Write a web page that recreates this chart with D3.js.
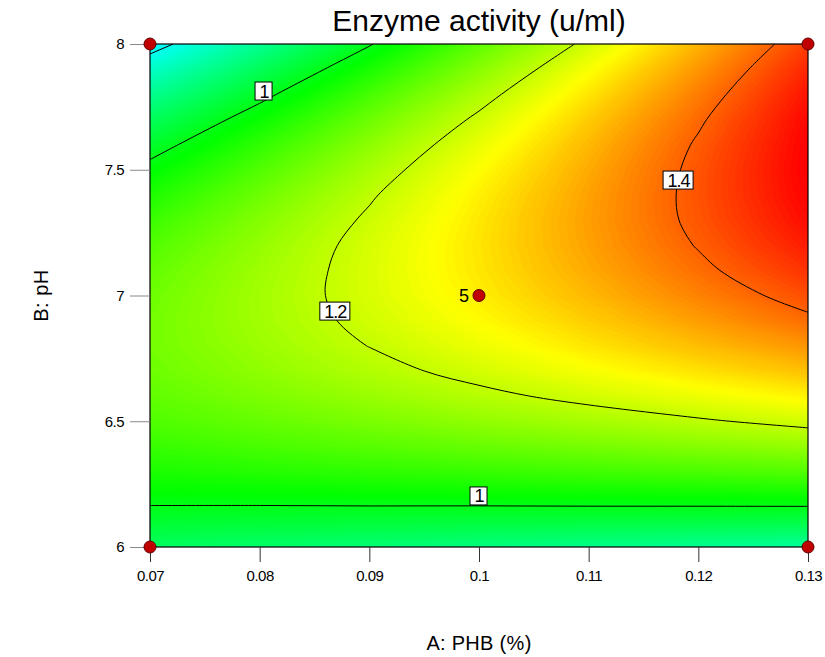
<html lang="en">

<head>
    <meta charset="utf-8">
    <title>Enzyme activity (u/ml)</title>
    <script type="text/javascript" src="https://cdn.jsdelivr.net/npm/d3@7"></script>
    <style>
        body {
            margin: 0;
            background: white;
        }
        text {
            font-family: "Liberation Sans", Arial, sans-serif;
            fill: black;
        }
        .axis path {
            display: none;
        }
    </style>
</head>

<body>
    <script type="text/javascript">
        // A: PHB (%) - one column per level
        var phb = [0.07, 0.08, 0.09, 0.10, 0.11, 0.12, 0.13];

        // B: pH - one row per level
        var ph = [6.0, 6.1, 6.2, 6.3, 6.4, 6.5, 6.6, 6.7, 6.8, 6.9, 7.0,
                  7.1, 7.2, 7.3, 7.4, 7.5, 7.6, 7.7, 7.8, 7.9, 8.0];

        // predicted enzyme activity (u/ml), rows follow ph, columns follow phb
        var activity = [
            [0.933, 0.924, 0.914, 0.905, 0.896, 0.886, 0.877],
            [0.976, 0.972, 0.969, 0.965, 0.962, 0.959, 0.955],
            [1.013, 1.015, 1.018, 1.020, 1.023, 1.025, 1.028],
            [1.045, 1.053, 1.062, 1.070, 1.079, 1.087, 1.096],
            [1.071, 1.086, 1.100, 1.115, 1.129, 1.143, 1.158],
            [1.093, 1.113, 1.133, 1.154, 1.174, 1.194, 1.215],
            [1.109, 1.135, 1.161, 1.188, 1.214, 1.240, 1.266],
            [1.120, 1.152, 1.184, 1.216, 1.248, 1.281, 1.313],
            [1.125, 1.163, 1.201, 1.239, 1.278, 1.316, 1.354],
            [1.125, 1.169, 1.213, 1.257, 1.301, 1.345, 1.390],
            [1.120, 1.170, 1.220, 1.270, 1.320, 1.370, 1.420],
            [1.110, 1.165, 1.221, 1.277, 1.333, 1.389, 1.445],
            [1.094, 1.156, 1.218, 1.279, 1.341, 1.403, 1.465],
            [1.073, 1.141, 1.208, 1.276, 1.344, 1.412, 1.480],
            [1.046, 1.120, 1.194, 1.268, 1.341, 1.415, 1.489],
            [1.015, 1.094, 1.174, 1.254, 1.333, 1.413, 1.493],
            [0.978, 1.063, 1.149, 1.235, 1.320, 1.406, 1.491],
            [0.936, 1.027, 1.119, 1.210, 1.302, 1.393, 1.485],
            [0.888, 0.985, 1.083, 1.180, 1.278, 1.375, 1.473],
            [0.835, 0.939, 1.042, 1.145, 1.249, 1.352, 1.456],
            [0.777, 0.886, 0.996, 1.105, 1.214, 1.324, 1.433]
        ];

        var contourLevels = [0.8, 1.0, 1.2, 1.4];

        // where each contour label sits (A, B)
        var labelText = ["1", "1.2", "1.4", "1"];
        var labelPhb = [0.0804, 0.0869, 0.1182, 0.1000];
        var labelPh = [7.813, 6.938, 7.459, 6.203];

        // design points and number of runs at each
        var pointPhb = [0.07, 0.07, 0.13, 0.13, 0.10];
        var pointPh = [6, 8, 6, 8, 7];
        var pointRuns = [1, 1, 1, 1, 5];

        var xTicks = [0.07, 0.08, 0.09, 0.1, 0.11, 0.12, 0.13];
        var yTicks = [6, 6.5, 7, 7.5, 8];

        ////////////////chart////////////////////////

        var w = 825;
        var h = 657;
        var plot = {left: 150, right: 808, top: 44, bottom: 547};

        var svg = d3.select("body")
            .append("svg")
            .attr("width", w)
            .attr("height", h);

        var xScale = d3.scaleLinear()
            .domain([phb[0], phb[phb.length - 1]])
            .range([plot.left, plot.right]);

        var yScale = d3.scaleLinear()
            .domain([ph[0], ph[ph.length - 1]])
            .range([plot.bottom, plot.top]);

        // blue - cyan - green - yellow - red ramp
        var colorScale = d3.scaleLinear()
            .domain([0.55, 0.785, 1.02, 1.255, 1.49])
            .range(["#0000ff", "#00ffff", "#00ff00", "#ffff00", "#ff0000"])
            .clamp(true);

        // grid cell centres -> page coordinates
        var gridX = d3.scaleLinear()
            .domain([0.5, phb.length - 0.5])
            .range([xScale(phb[0]), xScale(phb[phb.length - 1])]);
        var gridY = d3.scaleLinear()
            .domain([0.5, ph.length - 0.5])
            .range([yScale(ph[0]), yScale(ph[ph.length - 1])]);

        var gridPath = d3.geoPath(d3.geoTransform({
            point: function(x, y) {
                this.stream.point(gridX(x), gridY(y));
            }
        }));

        // contour lines: keep only the parts inside the grid, drawn smooth
        var openLine = d3.line().curve(d3.curveCatmullRom.alpha(0.5));
        var closedLine = d3.line().curve(d3.curveCatmullRomClosed.alpha(0.5));

        function inside(p) {
            var e = 1e-6;
            return p[0] >= 0.5 - e && p[0] <= phb.length - 0.5 + e &&
                p[1] >= 0.5 - e && p[1] <= ph.length - 0.5 + e;
        }

        function toPage(p) {
            return [gridX(p[0]), gridY(p[1])];
        }

        function levelPath(d) {
            var out = "";
            d.coordinates.forEach(function(poly) {
                poly.forEach(function(ring) {
                    var pts = ring.slice(0, ring.length - 1);
                    var start = -1;
                    pts.forEach(function(p, i) {
                        if (start < 0 && !inside(p)) start = i;
                    });
                    if (start < 0) {
                        out += closedLine(pts.map(toPage));
                        return;
                    }
                    var run = [];
                    for (var k = 0; k <= pts.length; k++) {
                        var p = pts[(start + k) % pts.length];
                        if (inside(p)) {
                            run.push(toPage(p));
                        } else {
                            if (run.length > 1) out += openLine(run);
                            run = [];
                        }
                    }
                    if (run.length > 1) out += openLine(run);
                });
            });
            return out;
        }

        var values = d3.merge(activity);

        svg.append("clipPath")
            .attr("id", "clip-plot")
            .append("rect")
            .attr("x", plot.left)
            .attr("y", plot.top)
            .attr("width", plot.right - plot.left)
            .attr("height", plot.bottom - plot.top);

        var area = svg.append("g")
            .attr("clip-path", "url(#clip-plot)");

        var bandStep = 0.005;
        var bands = d3.range(0.70, 1.505, bandStep);

        area.append("rect")
            .attr("x", plot.left)
            .attr("y", plot.top)
            .attr("width", plot.right - plot.left)
            .attr("height", plot.bottom - plot.top)
            .attr("fill", colorScale(bands[0]));

        var fills = d3.contours()
            .size([phb.length, ph.length])
            .thresholds(bands)(values);

        area.selectAll("path.band")
            .data(fills)
            .enter()
            .append("path")
            .attr("class", "band")
            .attr("d", gridPath)
            .attr("fill", function(d) {
                return colorScale(d.value + bandStep / 2);
            });

        var lines = d3.contours()
            .size([phb.length, ph.length])
            .thresholds(contourLevels)(values);

        area.selectAll("path.level")
            .data(lines)
            .enter()
            .append("path")
            .attr("class", "level")
            .attr("d", levelPath)
            .attr("fill", "none")
            .attr("stroke", "black")
            .attr("stroke-width", 1);

        // contour labels in white boxes
        labelText.forEach(function(t, i) {
            var g = svg.append("g")
                .attr("transform", "translate(" + xScale(labelPhb[i]) + "," + yScale(labelPh[i]) + ")");
            var box = g.append("rect");
            var txt = g.append("text")
                .attr("text-anchor", "middle")
                .attr("dy", "0.36em")
                .attr("font-size", "18px")
                .attr("letter-spacing", "-1px")
                .text(t);
            var bb = txt.node().getBBox();
            box.attr("x", -bb.width / 2 - 4)
                .attr("y", -9)
                .attr("width", bb.width + 7)
                .attr("height", 18)
                .attr("fill", "white")
                .attr("stroke", "black")
                .attr("stroke-width", 1);
        });

        // frame
        svg.append("rect")
            .attr("x", plot.left)
            .attr("y", plot.top)
            .attr("width", plot.right - plot.left)
            .attr("height", plot.bottom - plot.top)
            .attr("fill", "none")
            .attr("stroke", "black")
            .attr("stroke-width", 1.2);

        var xAxis = d3.axisBottom(xScale)
            .tickValues(xTicks)
            .tickSize(15)
            .tickSizeOuter(0)
            .tickPadding(8)
            .tickFormat(function(d) { return d; });

        var yAxis = d3.axisLeft(yScale)
            .tickValues(yTicks)
            .tickSize(20)
            .tickSizeOuter(0)
            .tickPadding(6)
            .tickFormat(function(d) { return d; });

        var xAxisObject = svg.append("g")
            .attr("class", "axis")
            .attr("transform", "translate(0," + plot.bottom + ")")
            .call(xAxis);
        xAxisObject.selectAll("line").attr("stroke", "#333");
        xAxisObject.selectAll("text")
            .attr("font-size", "15px")
            .attr("letter-spacing", "-0.5px")
            .attr("font-family", "Liberation Sans, Arial, sans-serif");

        var yAxisObject = svg.append("g")
            .attr("class", "axis")
            .attr("transform", "translate(" + plot.left + ",0)")
            .call(yAxis);
        yAxisObject.selectAll("line").attr("stroke", "#888");
        yAxisObject.selectAll("text")
            .attr("font-size", "15px")
            .attr("letter-spacing", "-0.5px")
            .attr("font-family", "Liberation Sans, Arial, sans-serif");

        // design points
        svg.selectAll("circle")
            .data(pointRuns)
            .enter()
            .append("circle")
            .attr("cx", function(d, i) { return xScale(pointPhb[i]); })
            .attr("cy", function(d, i) { return yScale(pointPh[i]); })
            .attr("r", 6)
            .attr("fill", "#c00000")
            .attr("stroke", "#600000")
            .attr("stroke-width", 1);

        svg.selectAll("text.runs")
            .data(pointRuns.filter(function(d) { return d > 1; }))
            .enter()
            .append("text")
            .attr("class", "runs")
            .attr("x", function(d) { return xScale(pointPhb[pointRuns.indexOf(d)]) - 10; })
            .attr("y", function(d) { return yScale(pointPh[pointRuns.indexOf(d)]); })
            .attr("dy", "0.35em")
            .attr("text-anchor", "end")
            .attr("font-size", "18px")
            .text(function(d) { return d; });

        // titles
        svg.append("text")
            .attr("x", (plot.left + plot.right) / 2)
            .attr("y", 31)
            .attr("text-anchor", "middle")
            .attr("font-size", "30px")
            .text("Enzyme activity (u/ml)");

        svg.append("text")
            .attr("x", (plot.left + plot.right) / 2)
            .attr("y", 650)
            .attr("text-anchor", "middle")
            .attr("font-size", "20px")
            .attr("letter-spacing", "0.3px")
            .text("A: PHB (%)");

        svg.append("text")
            .attr("transform", "translate(48," + (plot.top + plot.bottom) / 2 + ") rotate(-90)")
            .attr("text-anchor", "middle")
            .attr("font-size", "20px")
            .attr("letter-spacing", "0.5px")
            .text("B: pH");
    </script>
</body>

</html>
